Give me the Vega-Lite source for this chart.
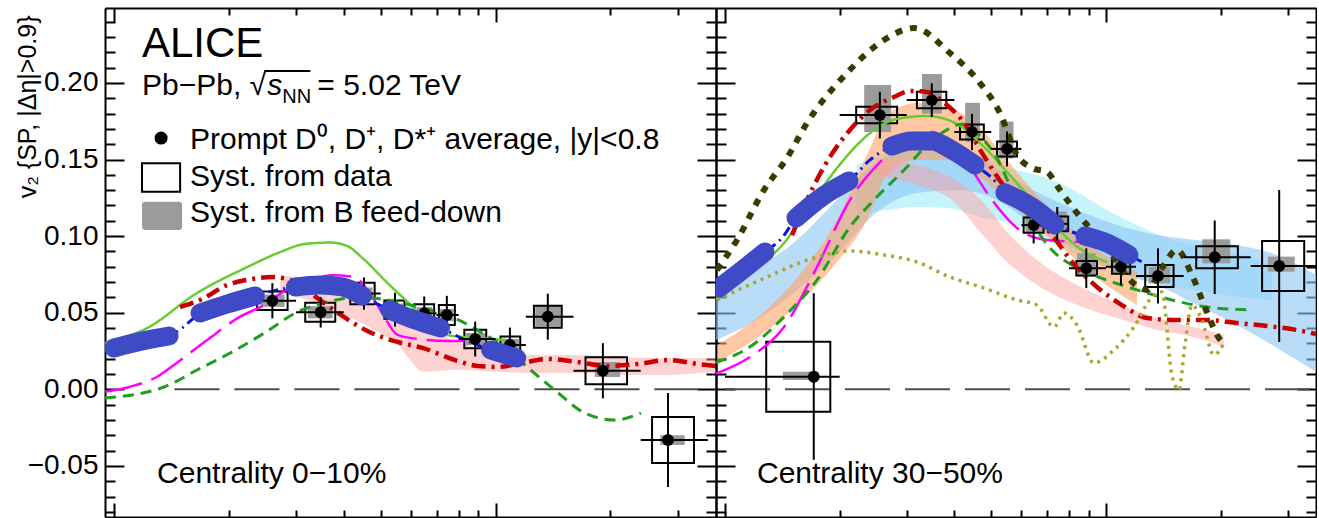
{
  "$schema": "https://vega.github.io/schema/vega-lite/v6.json",
  "background": "white",
  "padding": {"left": 15, "top": 7, "right": 0, "bottom": 0},
  "autosize": {"type": "pad"},
  "spacing": 0,
  "bounds": "flush",
  "config": {
    "view": {"stroke": null},
    "font": "Liberation Sans"
  },
  "datasets": {
    "curves": [
      {"panel": "L", "model": "M1", "pt": 0.9471, "v2": 0.0300}, {"panel": "L", "model": "M1", "pt": 1.2209, "v2": 0.0400}, {"panel": "L", "model": "M1", "pt": 1.6513, "v2": 0.0629}, {"panel": "L", "model": "M1", "pt": 2.2344, "v2": 0.0798}, {"panel": "L", "model": "M1", "pt": 2.7279, "v2": 0.0896}, {"panel": "L", "model": "M1", "pt": 3.1528, "v2": 0.0948}, {"panel": "L", "model": "M1", "pt": 3.6887, "v2": 0.0958}, {"panel": "L", "model": "M1", "pt": 4.0881, "v2": 0.0935}, {"panel": "L", "model": "M1", "pt": 4.4770, "v2": 0.0857}, {"panel": "L", "model": "M1", "pt": 5.2069, "v2": 0.0694}, {"panel": "L", "model": "M1", "pt": 5.8751, "v2": 0.0570}, {"panel": "L", "model": "M1", "pt": 6.6293, "v2": 0.0439}, {"panel": "L", "model": "M1", "pt": 7.4815, "v2": 0.0354}, {"panel": "L", "model": "M1", "pt": 8.9693, "v2": 0.0335}, {"panel": "L", "model": "M1", "pt": 10.753, "v2": 0.0322},
      {"panel": "L", "model": "M2", "pt": 0.9471, "v2": -0.0016}, {"panel": "L", "model": "M2", "pt": 1.1015, "v2": 0.0017}, {"panel": "L", "model": "M2", "pt": 1.2967, "v2": 0.0082}, {"panel": "L", "model": "M2", "pt": 1.4369, "v2": 0.0159}, {"panel": "L", "model": "M2", "pt": 1.7541, "v2": 0.0322}, {"panel": "L", "model": "M2", "pt": 2.1417, "v2": 0.0474}, {"panel": "L", "model": "M2", "pt": 2.4756, "v2": 0.0550}, {"panel": "L", "model": "M2", "pt": 2.8458, "v2": 0.0654}, {"panel": "L", "model": "M2", "pt": 3.2105, "v2": 0.0706}, {"panel": "L", "model": "M2", "pt": 3.7336, "v2": 0.0745}, {"panel": "L", "model": "M2", "pt": 4.2648, "v2": 0.0733}, {"panel": "L", "model": "M2", "pt": 4.6142, "v2": 0.0648}, {"panel": "L", "model": "M2", "pt": 4.9912, "v2": 0.0518}, {"panel": "L", "model": "M2", "pt": 5.5316, "v2": 0.0355}, {"panel": "L", "model": "M2", "pt": 6.2403, "v2": 0.0329}, {"panel": "L", "model": "M2", "pt": 7.4815, "v2": 0.0315}, {"panel": "L", "model": "M2", "pt": 8.4433, "v2": 0.0315},
      {"panel": "L", "model": "M3", "pt": 0.9471, "v2": -0.0057}, {"panel": "L", "model": "M3", "pt": 1.3527, "v2": 0.0015}, {"panel": "L", "model": "M3", "pt": 1.6513, "v2": 0.0126}, {"panel": "L", "model": "M3", "pt": 2.0158, "v2": 0.0237}, {"panel": "L", "model": "M3", "pt": 2.4756, "v2": 0.0367}, {"panel": "L", "model": "M3", "pt": 3.0237, "v2": 0.0505}, {"panel": "L", "model": "M3", "pt": 3.6230, "v2": 0.0570}, {"panel": "L", "model": "M3", "pt": 4.3425, "v2": 0.0602}, {"panel": "L", "model": "M3", "pt": 5.2069, "v2": 0.0583}, {"panel": "L", "model": "M3", "pt": 5.9823, "v2": 0.0550}, {"panel": "L", "model": "M3", "pt": 6.7506, "v2": 0.0518}, {"panel": "L", "model": "M3", "pt": 7.8050, "v2": 0.0465}, {"panel": "L", "model": "M3", "pt": 9.1332, "v2": 0.0374}, {"panel": "L", "model": "M3", "pt": 10.559, "v2": 0.0276}, {"panel": "L", "model": "M3", "pt": 12.356, "v2": 0.0126}, {"panel": "L", "model": "M3", "pt": 14.284, "v2": -0.0005}, {"panel": "L", "model": "M3", "pt": 17.125, "v2": -0.0155}, {"panel": "L", "model": "M3", "pt": 20.527, "v2": -0.0201}, {"panel": "L", "model": "M3", "pt": 24.025, "v2": -0.0155},
      {"panel": "L", "model": "M4", "pt": 1.4899, "v2": 0.0537}, {"panel": "L", "model": "M4", "pt": 1.7019, "v2": 0.0589}, {"panel": "L", "model": "M4", "pt": 1.9796, "v2": 0.0681}, {"panel": "L", "model": "M4", "pt": 2.3030, "v2": 0.0720}, {"panel": "L", "model": "M4", "pt": 2.5982, "v2": 0.0733}, {"panel": "L", "model": "M4", "pt": 3.0237, "v2": 0.0694}, {"panel": "L", "model": "M4", "pt": 3.4104, "v2": 0.0596}, {"panel": "L", "model": "M4", "pt": 3.9664, "v2": 0.0479}, {"panel": "L", "model": "M4", "pt": 4.6142, "v2": 0.0381}, {"panel": "L", "model": "M4", "pt": 5.5316, "v2": 0.0309}, {"panel": "L", "model": "M4", "pt": 6.4320, "v2": 0.0270}, {"panel": "L", "model": "M4", "pt": 7.9478, "v2": 0.0185}, {"panel": "L", "model": "M4", "pt": 8.9693, "v2": 0.0152}, {"panel": "L", "model": "M4", "pt": 10.122, "v2": 0.0146}, {"panel": "L", "model": "M4", "pt": 11.422, "v2": 0.0165}, {"panel": "L", "model": "M4", "pt": 13.692, "v2": 0.0198}, {"panel": "L", "model": "M4", "pt": 16.413, "v2": 0.0178}, {"panel": "L", "model": "M4", "pt": 19.677, "v2": 0.0152}, {"panel": "L", "model": "M4", "pt": 23.594, "v2": 0.0165}, {"panel": "L", "model": "M4", "pt": 28.279, "v2": 0.0191}, {"panel": "L", "model": "M4", "pt": 33.901, "v2": 0.0165}, {"panel": "L", "model": "M4", "pt": 37.80, "v2": 0.0152},
      {"panel": "L", "model": "M5", "pt": 0.9471, "v2": 0.0257}, {"panel": "L", "model": "M5", "pt": 1.0, "v2": 0.0270}, {"panel": "L", "model": "M5", "pt": 1.1844, "v2": 0.0315}, {"panel": "L", "model": "M5", "pt": 1.3941, "v2": 0.0348}, {"panel": "L", "model": "M5", "pt": 1.508, "v2": 0.0400}, {"panel": "L", "model": "M5", "pt": 1.6814, "v2": 0.0498}, {"panel": "L", "model": "M5", "pt": 1.9796, "v2": 0.0557}, {"panel": "L", "model": "M5", "pt": 2.3451, "v2": 0.0609}, {"panel": "L", "model": "M5", "pt": 2.6779, "v2": 0.0649}, {"panel": "L", "model": "M5", "pt": 2.9868, "v2": 0.0668}, {"panel": "L", "model": "M5", "pt": 3.4519, "v2": 0.0681}, {"panel": "L", "model": "M5", "pt": 3.9664, "v2": 0.0668}, {"panel": "L", "model": "M5", "pt": 4.4770, "v2": 0.0609}, {"panel": "L", "model": "M5", "pt": 4.9017, "v2": 0.0557}, {"panel": "L", "model": "M5", "pt": 5.2706, "v2": 0.0518}, {"panel": "L", "model": "M5", "pt": 6.0555, "v2": 0.0459}, {"panel": "L", "model": "M5", "pt": 7.1716, "v2": 0.0400}, {"panel": "L", "model": "M5", "pt": 8.4433, "v2": 0.0315}, {"panel": "L", "model": "M5", "pt": 9.7023, "v2": 0.0257}, {"panel": "L", "model": "M5", "pt": 11.354, "v2": 0.0204},
      {"panel": "R", "model": "M1", "pt": 0.9471, "v2": 0.0590}, {"panel": "R", "model": "M1", "pt": 1.1421, "v2": 0.0746}, {"panel": "R", "model": "M1", "pt": 1.4286, "v2": 0.0955}, {"panel": "R", "model": "M1", "pt": 1.7436, "v2": 0.1268}, {"panel": "R", "model": "M1", "pt": 1.9678, "v2": 0.1444}, {"panel": "R", "model": "M1", "pt": 2.2211, "v2": 0.1595}, {"panel": "R", "model": "M1", "pt": 2.5061, "v2": 0.1706}, {"panel": "R", "model": "M1", "pt": 2.8277, "v2": 0.1765}, {"panel": "R", "model": "M1", "pt": 3.3900, "v2": 0.1784}, {"panel": "R", "model": "M1", "pt": 4.0626, "v2": 0.1732}, {"panel": "R", "model": "M1", "pt": 4.7276, "v2": 0.1595}, {"panel": "R", "model": "M1", "pt": 5.4982, "v2": 0.1419}, {"panel": "R", "model": "M1", "pt": 6.3930, "v2": 0.1236}, {"panel": "R", "model": "M1", "pt": 7.4352, "v2": 0.1053}, {"panel": "R", "model": "M1", "pt": 8.6514, "v2": 0.0909}, {"panel": "R", "model": "M1", "pt": 10.061, "v2": 0.0831},
      {"panel": "R", "model": "M2", "pt": 0.9471, "v2": 0.0103}, {"panel": "R", "model": "M2", "pt": 1.1631, "v2": 0.0211}, {"panel": "R", "model": "M2", "pt": 1.4286, "v2": 0.0407}, {"panel": "R", "model": "M2", "pt": 1.7436, "v2": 0.0798}, {"panel": "R", "model": "M2", "pt": 2.1288, "v2": 0.1236}, {"panel": "R", "model": "M2", "pt": 2.6141, "v2": 0.1510}, {"panel": "R", "model": "M2", "pt": 3.0962, "v2": 0.1660}, {"panel": "R", "model": "M2", "pt": 3.4940, "v2": 0.1679}, {"panel": "R", "model": "M2", "pt": 3.9417, "v2": 0.1595}, {"panel": "R", "model": "M2", "pt": 4.4497, "v2": 0.1432}, {"panel": "R", "model": "M2", "pt": 5.0225, "v2": 0.1236}, {"panel": "R", "model": "M2", "pt": 5.8411, "v2": 0.1053}, {"panel": "R", "model": "M2", "pt": 6.9980, "v2": 0.0975}, {"panel": "R", "model": "M2", "pt": 8.6514, "v2": 0.0962},
      {"panel": "R", "model": "M3", "pt": 0.9471, "v2": 0.0175}, {"panel": "R", "model": "M3", "pt": 1.1631, "v2": 0.0277}, {"panel": "R", "model": "M3", "pt": 1.4286, "v2": 0.0473}, {"panel": "R", "model": "M3", "pt": 1.7436, "v2": 0.0713}, {"panel": "R", "model": "M3", "pt": 2.1288, "v2": 0.1060}, {"panel": "R", "model": "M3", "pt": 2.5061, "v2": 0.1256}, {"panel": "R", "model": "M3", "pt": 3.0040, "v2": 0.1451}, {"panel": "R", "model": "M3", "pt": 3.3900, "v2": 0.1595}, {"panel": "R", "model": "M3", "pt": 3.8242, "v2": 0.1693}, {"panel": "R", "model": "M3", "pt": 4.1883, "v2": 0.1732}, {"panel": "R", "model": "M3", "pt": 4.7276, "v2": 0.1641}, {"panel": "R", "model": "M3", "pt": 5.1767, "v2": 0.1510}, {"panel": "R", "model": "M3", "pt": 5.6671, "v2": 0.1301}, {"panel": "R", "model": "M3", "pt": 6.2027, "v2": 0.1138}, {"panel": "R", "model": "M3", "pt": 7.2147, "v2": 0.0909}, {"panel": "R", "model": "M3", "pt": 8.3938, "v2": 0.0792}, {"panel": "R", "model": "M3", "pt": 10.061, "v2": 0.0713}, {"panel": "R", "model": "M3", "pt": 12.060, "v2": 0.0649}, {"panel": "R", "model": "M3", "pt": 14.902, "v2": 0.0583}, {"panel": "R", "model": "M3", "pt": 18.410, "v2": 0.0537}, {"panel": "R", "model": "M3", "pt": 24.166, "v2": 0.0518},
      {"panel": "R", "model": "M4", "pt": 1.4993, "v2": 0.1007}, {"panel": "R", "model": "M4", "pt": 1.6414, "v2": 0.1236}, {"panel": "R", "model": "M4", "pt": 1.8864, "v2": 0.1517}, {"panel": "R", "model": "M4", "pt": 2.1288, "v2": 0.1693}, {"panel": "R", "model": "M4", "pt": 2.4023, "v2": 0.1823}, {"panel": "R", "model": "M4", "pt": 2.7769, "v2": 0.1908}, {"panel": "R", "model": "M4", "pt": 3.0590, "v2": 0.1947}, {"panel": "R", "model": "M4", "pt": 3.3900, "v2": 0.1941}, {"panel": "R", "model": "M4", "pt": 3.8242, "v2": 0.1856}, {"panel": "R", "model": "M4", "pt": 4.1883, "v2": 0.1758}, {"panel": "R", "model": "M4", "pt": 4.7276, "v2": 0.1543}, {"panel": "R", "model": "M4", "pt": 5.4982, "v2": 0.1301}, {"panel": "R", "model": "M4", "pt": 6.3930, "v2": 0.1138}, {"panel": "R", "model": "M4", "pt": 7.2147, "v2": 0.1007}, {"panel": "R", "model": "M4", "pt": 8.1437, "v2": 0.0831}, {"panel": "R", "model": "M4", "pt": 9.4699, "v2": 0.0668}, {"panel": "R", "model": "M4", "pt": 11.015, "v2": 0.0550}, {"panel": "R", "model": "M4", "pt": 12.811, "v2": 0.0465}, {"panel": "R", "model": "M4", "pt": 15.360, "v2": 0.0452}, {"panel": "R", "model": "M4", "pt": 18.410, "v2": 0.0452}, {"panel": "R", "model": "M4", "pt": 22.072, "v2": 0.0433}, {"panel": "R", "model": "M4", "pt": 26.465, "v2": 0.0413}, {"panel": "R", "model": "M4", "pt": 31.717, "v2": 0.0387}, {"panel": "R", "model": "M4", "pt": 35.59, "v2": 0.0361},
      {"panel": "R", "model": "M5", "pt": 0.9471, "v2": 0.0640}, {"panel": "R", "model": "M5", "pt": 0.9644, "v2": 0.0661}, {"panel": "R", "model": "M5", "pt": 1.1285, "v2": 0.0792}, {"panel": "R", "model": "M5", "pt": 1.2735, "v2": 0.0896}, {"panel": "R", "model": "M5", "pt": 1.4113, "v2": 0.0988}, {"panel": "R", "model": "M5", "pt": 1.5359, "v2": 0.1118}, {"panel": "R", "model": "M5", "pt": 1.7970, "v2": 0.1256}, {"panel": "R", "model": "M5", "pt": 2.1160, "v2": 0.1360}, {"panel": "R", "model": "M5", "pt": 2.4023, "v2": 0.1497}, {"panel": "R", "model": "M5", "pt": 2.7435, "v2": 0.1588}, {"panel": "R", "model": "M5", "pt": 3.0962, "v2": 0.1621}, {"panel": "R", "model": "M5", "pt": 3.4940, "v2": 0.1621}, {"panel": "R", "model": "M5", "pt": 3.9417, "v2": 0.1562}, {"panel": "R", "model": "M5", "pt": 4.5316, "v2": 0.1464}, {"panel": "R", "model": "M5", "pt": 5.0225, "v2": 0.1379}, {"panel": "R", "model": "M5", "pt": 5.4325, "v2": 0.1282}, {"panel": "R", "model": "M5", "pt": 6.3930, "v2": 0.1190}, {"panel": "R", "model": "M5", "pt": 7.3460, "v2": 0.1073}, {"panel": "R", "model": "M5", "pt": 8.1437, "v2": 0.1027}, {"panel": "R", "model": "M5", "pt": 8.8104, "v2": 0.1001}, {"panel": "R", "model": "M5", "pt": 10.061, "v2": 0.0955}, {"panel": "R", "model": "M5", "pt": 11.492, "v2": 0.0877}, {"panel": "R", "model": "M5", "pt": 12.430, "v2": 0.0831},
      {"panel": "R", "model": "M6", "pt": 0.9528, "v2": 0.0779}, {"panel": "R", "model": "M6", "pt": 1.0752, "v2": 0.0975}, {"panel": "R", "model": "M6", "pt": 1.2659, "v2": 0.1301}, {"panel": "R", "model": "M6", "pt": 1.4545, "v2": 0.1510}, {"panel": "R", "model": "M6", "pt": 1.6414, "v2": 0.1738}, {"panel": "R", "model": "M6", "pt": 2.0906, "v2": 0.2065}, {"panel": "R", "model": "M6", "pt": 2.6141, "v2": 0.2280}, {"panel": "R", "model": "M6", "pt": 3.1339, "v2": 0.2358}, {"panel": "R", "model": "M6", "pt": 3.8943, "v2": 0.2195}, {"panel": "R", "model": "M6", "pt": 4.6707, "v2": 0.1999}, {"panel": "R", "model": "M6", "pt": 5.2706, "v2": 0.1803}, {"panel": "R", "model": "M6", "pt": 5.8411, "v2": 0.1530}, {"panel": "R", "model": "M6", "pt": 6.3930, "v2": 0.1445}, {"panel": "R", "model": "M6", "pt": 6.9980, "v2": 0.1419}, {"panel": "R", "model": "M6", "pt": 7.5723, "v2": 0.1301}, {"panel": "R", "model": "M6", "pt": 8.3938, "v2": 0.1151}, {"panel": "R", "model": "M6", "pt": 9.2998, "v2": 0.1020}, {"panel": "R", "model": "M6", "pt": 10.368, "v2": 0.0877}, {"panel": "R", "model": "M6", "pt": 11.561, "v2": 0.0714}, {"panel": "R", "model": "M6", "pt": 12.811, "v2": 0.0649}, {"panel": "R", "model": "M6", "pt": 14.028, "v2": 0.0792}, {"panel": "R", "model": "M6", "pt": 15.360, "v2": 0.0910}, {"panel": "R", "model": "M6", "pt": 16.814, "v2": 0.0746}, {"panel": "R", "model": "M6", "pt": 18.410, "v2": 0.0505}, {"panel": "R", "model": "M6", "pt": 19.793, "v2": 0.0335}, {"panel": "R", "model": "M6", "pt": 20.774, "v2": 0.0289},
      {"panel": "R", "model": "M7", "pt": 0.9528, "v2": 0.0583}, {"panel": "R", "model": "M7", "pt": 1.2890, "v2": 0.0733}, {"panel": "R", "model": "M7", "pt": 1.7436, "v2": 0.0864}, {"panel": "R", "model": "M7", "pt": 2.1288, "v2": 0.0903}, {"panel": "R", "model": "M7", "pt": 2.6141, "v2": 0.0877}, {"panel": "R", "model": "M7", "pt": 3.1914, "v2": 0.0831}, {"panel": "R", "model": "M7", "pt": 3.8943, "v2": 0.0733}, {"panel": "R", "model": "M7", "pt": 4.7837, "v2": 0.0661}, {"panel": "R", "model": "M7", "pt": 5.8411, "v2": 0.0583}, {"panel": "R", "model": "M7", "pt": 6.5892, "v2": 0.0550}, {"panel": "R", "model": "M7", "pt": 7.3023, "v2": 0.0407}, {"panel": "R", "model": "M7", "pt": 7.7572, "v2": 0.0498}, {"panel": "R", "model": "M7", "pt": 8.3938, "v2": 0.0420}, {"panel": "R", "model": "M7", "pt": 9.2998, "v2": 0.0172}, {"panel": "R", "model": "M7", "pt": 10.496, "v2": 0.0257}, {"panel": "R", "model": "M7", "pt": 11.846, "v2": 0.0407}, {"panel": "R", "model": "M7", "pt": 13.205, "v2": 0.0602}, {"panel": "R", "model": "M7", "pt": 14.028, "v2": 0.0635}, {"panel": "R", "model": "M7", "pt": 14.902, "v2": 0.0093}, {"panel": "R", "model": "M7", "pt": 15.546, "v2": -0.0005}, {"panel": "R", "model": "M7", "pt": 16.118, "v2": 0.0289}, {"panel": "R", "model": "M7", "pt": 16.814, "v2": 0.0550}, {"panel": "R", "model": "M7", "pt": 17.862, "v2": 0.0452}, {"panel": "R", "model": "M7", "pt": 19.205, "v2": 0.0224}, {"panel": "R", "model": "M7", "pt": 20.401, "v2": 0.0302}
    ],
    "bands": [
      {"panel": "L", "model": "B4", "pt": 2.7279, "lo": 0.0635, "hi": 0.0740}, {"panel": "L", "model": "B4", "pt": 3.2105, "lo": 0.0583, "hi": 0.0727}, {"panel": "L", "model": "B4", "pt": 3.8484, "lo": 0.0505, "hi": 0.0629}, {"panel": "L", "model": "B4", "pt": 4.6142, "lo": 0.0413, "hi": 0.0563}, {"panel": "L", "model": "B4", "pt": 5.5316, "lo": 0.0289, "hi": 0.0485}, {"panel": "L", "model": "B4", "pt": 6.5102, "lo": 0.0114, "hi": 0.0413}, {"panel": "L", "model": "B4", "pt": 7.9478, "lo": 0.0127, "hi": 0.0309}, {"panel": "L", "model": "B4", "pt": 10.122, "lo": 0.0114, "hi": 0.0244}, {"panel": "L", "model": "B4", "pt": 12.891, "lo": 0.0107, "hi": 0.0224}, {"panel": "L", "model": "B4", "pt": 16.413, "lo": 0.0107, "hi": 0.0224}, {"panel": "L", "model": "B4", "pt": 20.902, "lo": 0.0093, "hi": 0.0211}, {"panel": "L", "model": "B4", "pt": 26.619, "lo": 0.0093, "hi": 0.0204}, {"panel": "L", "model": "B4", "pt": 37.80, "lo": 0.0114, "hi": 0.0204},
      {"panel": "R", "model": "B1", "pt": 2.2211, "lo": 0.1138, "hi": 0.1464}, {"panel": "R", "model": "B1", "pt": 2.6618, "lo": 0.1170, "hi": 0.1549}, {"panel": "R", "model": "B1", "pt": 3.1914, "lo": 0.1190, "hi": 0.1595}, {"panel": "R", "model": "B1", "pt": 3.8242, "lo": 0.1183, "hi": 0.1595}, {"panel": "R", "model": "B1", "pt": 4.7837, "lo": 0.1118, "hi": 0.1510}, {"panel": "R", "model": "B1", "pt": 5.8411, "lo": 0.1072, "hi": 0.1432}, {"panel": "R", "model": "B1", "pt": 6.9980, "lo": 0.0975, "hi": 0.1379}, {"panel": "R", "model": "B1", "pt": 8.3938, "lo": 0.0877, "hi": 0.1288}, {"panel": "R", "model": "B1", "pt": 10.061, "lo": 0.0792, "hi": 0.1170}, {"panel": "R", "model": "B1", "pt": 12.060, "lo": 0.0727, "hi": 0.1073}, {"panel": "R", "model": "B1", "pt": 14.458, "lo": 0.0681, "hi": 0.0988}, {"panel": "R", "model": "B1", "pt": 18.410, "lo": 0.0635, "hi": 0.0922}, {"panel": "R", "model": "B1", "pt": 23.45, "lo": 0.0596, "hi": 0.0870}, {"panel": "R", "model": "B1", "pt": 27.28, "lo": 0.0583, "hi": 0.0811},
      {"panel": "R", "model": "B2", "pt": 0.9471, "lo": 0.0322, "hi": 0.0648}, {"panel": "R", "model": "B2", "pt": 1.2134, "lo": 0.0452, "hi": 0.0792}, {"panel": "R", "model": "B2", "pt": 1.5453, "lo": 0.0648, "hi": 0.0975}, {"panel": "R", "model": "B2", "pt": 1.9678, "lo": 0.0877, "hi": 0.1236}, {"panel": "R", "model": "B2", "pt": 2.5061, "lo": 0.1157, "hi": 0.1484}, {"panel": "R", "model": "B2", "pt": 3.1914, "lo": 0.1282, "hi": 0.1575}, {"panel": "R", "model": "B2", "pt": 4.0626, "lo": 0.1301, "hi": 0.1562}, {"panel": "R", "model": "B2", "pt": 5.1767, "lo": 0.1236, "hi": 0.1445}, {"panel": "R", "model": "B2", "pt": 6.5892, "lo": 0.1053, "hi": 0.1288}, {"panel": "R", "model": "B2", "pt": 8.3938, "lo": 0.0909, "hi": 0.1170}, {"panel": "R", "model": "B2", "pt": 10.687, "lo": 0.0766, "hi": 0.1073}, {"panel": "R", "model": "B2", "pt": 13.610, "lo": 0.0681, "hi": 0.1008}, {"panel": "R", "model": "B2", "pt": 17.330, "lo": 0.0550, "hi": 0.0975}, {"panel": "R", "model": "B2", "pt": 22.072, "lo": 0.0420, "hi": 0.0942}, {"panel": "R", "model": "B2", "pt": 28.110, "lo": 0.0270, "hi": 0.0877}, {"panel": "R", "model": "B2", "pt": 35.59, "lo": 0.0114, "hi": 0.0746},
      {"panel": "R", "model": "B3", "pt": 0.9528, "lo": 0.0179, "hi": 0.0290}, {"panel": "R", "model": "B3", "pt": 1.2134, "lo": 0.0335, "hi": 0.0465}, {"panel": "R", "model": "B3", "pt": 1.5453, "lo": 0.0551, "hi": 0.0727}, {"panel": "R", "model": "B3", "pt": 1.9678, "lo": 0.0831, "hi": 0.1105}, {"panel": "R", "model": "B3", "pt": 2.3590, "lo": 0.1105, "hi": 0.1529}, {"panel": "R", "model": "B3", "pt": 2.6618, "lo": 0.1399, "hi": 0.1790}, {"panel": "R", "model": "B3", "pt": 3.1914, "lo": 0.1497, "hi": 0.1869}, {"panel": "R", "model": "B3", "pt": 3.8242, "lo": 0.1497, "hi": 0.1843}, {"panel": "R", "model": "B3", "pt": 4.5869, "lo": 0.1399, "hi": 0.1725}, {"panel": "R", "model": "B3", "pt": 5.4982, "lo": 0.1236, "hi": 0.1497}, {"panel": "R", "model": "B3", "pt": 6.5892, "lo": 0.1053, "hi": 0.1268}, {"panel": "R", "model": "B3", "pt": 7.9000, "lo": 0.0896, "hi": 0.1073}, {"panel": "R", "model": "B3", "pt": 9.4699, "lo": 0.0727, "hi": 0.0909}, {"panel": "R", "model": "B3", "pt": 12.060, "lo": 0.0551, "hi": 0.0766},
      {"panel": "R", "model": "B4", "pt": 2.5061, "lo": 0.1398, "hi": 0.1496}, {"panel": "R", "model": "B4", "pt": 3.1914, "lo": 0.1334, "hi": 0.1464}, {"panel": "R", "model": "B4", "pt": 3.9417, "lo": 0.1236, "hi": 0.1379}, {"panel": "R", "model": "B4", "pt": 4.7276, "lo": 0.1012, "hi": 0.1230}, {"panel": "R", "model": "B4", "pt": 5.4982, "lo": 0.0831, "hi": 0.1027}, {"panel": "R", "model": "B4", "pt": 6.5892, "lo": 0.0681, "hi": 0.0844}, {"panel": "R", "model": "B4", "pt": 8.3938, "lo": 0.0551, "hi": 0.0681}, {"panel": "R", "model": "B4", "pt": 10.687, "lo": 0.0465, "hi": 0.0564}, {"panel": "R", "model": "B4", "pt": 13.610, "lo": 0.0387, "hi": 0.0465}, {"panel": "R", "model": "B4", "pt": 17.330, "lo": 0.0335, "hi": 0.0401}, {"panel": "R", "model": "B4", "pt": 20.401, "lo": 0.0276, "hi": 0.0354}
    ],
    "blobs": [
      {"panel": "L", "seg": 1, "pt": 1.0, "v2": 0.0270}, {"panel": "L", "seg": 1, "pt": 1.1844, "v2": 0.0315}, {"panel": "L", "seg": 1, "pt": 1.3941, "v2": 0.0348},
      {"panel": "L", "seg": 2, "pt": 1.6814, "v2": 0.0498}, {"panel": "L", "seg": 2, "pt": 1.9796, "v2": 0.0557}, {"panel": "L", "seg": 2, "pt": 2.3451, "v2": 0.0609},
      {"panel": "L", "seg": 3, "pt": 2.9868, "v2": 0.0668}, {"panel": "L", "seg": 3, "pt": 3.4519, "v2": 0.0681}, {"panel": "L", "seg": 3, "pt": 3.9664, "v2": 0.0668}, {"panel": "L", "seg": 3, "pt": 4.4770, "v2": 0.0609},
      {"panel": "L", "seg": 4, "pt": 5.2706, "v2": 0.0518}, {"panel": "L", "seg": 4, "pt": 6.0555, "v2": 0.0459}, {"panel": "L", "seg": 4, "pt": 7.1716, "v2": 0.0400},
      {"panel": "L", "seg": 5, "pt": 9.7023, "v2": 0.0257}, {"panel": "L", "seg": 5, "pt": 11.354, "v2": 0.0204},
      {"panel": "R", "seg": 1, "pt": 0.9644, "v2": 0.0661}, {"panel": "R", "seg": 1, "pt": 1.1285, "v2": 0.0792}, {"panel": "R", "seg": 1, "pt": 1.2735, "v2": 0.0896},
      {"panel": "R", "seg": 2, "pt": 1.5359, "v2": 0.1118}, {"panel": "R", "seg": 2, "pt": 1.7970, "v2": 0.1256}, {"panel": "R", "seg": 2, "pt": 2.1160, "v2": 0.1360},
      {"panel": "R", "seg": 3, "pt": 2.7435, "v2": 0.1588}, {"panel": "R", "seg": 3, "pt": 3.0962, "v2": 0.1621}, {"panel": "R", "seg": 3, "pt": 3.4940, "v2": 0.1621}, {"panel": "R", "seg": 3, "pt": 3.9417, "v2": 0.1562}, {"panel": "R", "seg": 3, "pt": 4.5316, "v2": 0.1464},
      {"panel": "R", "seg": 4, "pt": 5.4325, "v2": 0.1282}, {"panel": "R", "seg": 4, "pt": 6.3930, "v2": 0.1190}, {"panel": "R", "seg": 4, "pt": 7.3460, "v2": 0.1073},
      {"panel": "R", "seg": 5, "pt": 8.8104, "v2": 0.1001}, {"panel": "R", "seg": 5, "pt": 10.061, "v2": 0.0955}, {"panel": "R", "seg": 5, "pt": 11.492, "v2": 0.0877}
    ],
    "pts": [
      {"panel": "L", "pt": 2.60, "v2": 0.0578, "lo": 0.0463, "hi": 0.0693, "xl": 2, "xh": 3, "bxl": 2.37, "bxh": 2.85, "sl": 0.0518, "sh": 0.0638, "gxl": 2.42, "gxh": 2.80, "gl": 0.0538, "gh": 0.0618},
      {"panel": "L", "pt": 3.48, "v2": 0.0503, "lo": 0.0403, "hi": 0.0603, "xl": 3, "xh": 4, "bxl": 3.17, "bxh": 3.80, "sl": 0.0441, "sh": 0.0565, "gxl": 3.22, "gxh": 3.74, "gl": 0.0463, "gh": 0.0543},
      {"panel": "L", "pt": 4.52, "v2": 0.0625, "lo": 0.0520, "hi": 0.0730, "xl": 4, "xh": 5, "bxl": 4.16, "bxh": 4.82, "sl": 0.0555, "sh": 0.0695, "gxl": 4.22, "gxh": 4.76, "gl": 0.0585, "gh": 0.0665},
      {"panel": "L", "pt": 5.45, "v2": 0.0520, "lo": 0.0410, "hi": 0.0630, "xl": 5, "xh": 6, "bxl": 5.11, "bxh": 5.77, "sl": 0.0460, "sh": 0.0580, "gxl": 5.16, "gxh": 5.72, "gl": 0.0480, "gh": 0.0560},
      {"panel": "L", "pt": 6.50, "v2": 0.0496, "lo": 0.0386, "hi": 0.0606, "xl": 6, "xh": 7, "bxl": 6.12, "bxh": 6.90, "sl": 0.0436, "sh": 0.0556, "gxl": 6.20, "gxh": 6.82, "gl": 0.0456, "gh": 0.0536},
      {"panel": "L", "pt": 7.45, "v2": 0.0485, "lo": 0.0360, "hi": 0.0610, "xl": 7, "xh": 8, "bxl": 7.10, "bxh": 7.82, "sl": 0.0420, "sh": 0.0550, "gxl": 7.15, "gxh": 7.76, "gl": 0.0445, "gh": 0.0525},
      {"panel": "L", "pt": 8.84, "v2": 0.0328, "lo": 0.0214, "hi": 0.0442, "xl": 8, "xh": 10, "bxl": 8.28, "bxh": 9.45, "sl": 0.0268, "sh": 0.0388, "gxl": 8.35, "gxh": 9.38, "gl": 0.0288, "gh": 0.0368},
      {"panel": "L", "pt": 10.9, "v2": 0.0289, "lo": 0.0175, "hi": 0.0403, "xl": 10, "xh": 12, "bxl": 10.3, "bxh": 11.6, "sl": 0.0234, "sh": 0.0344, "gxl": 10.4, "gxh": 11.5, "gl": 0.0249, "gh": 0.0329},
      {"panel": "L", "pt": 13.7, "v2": 0.0474, "lo": 0.0324, "hi": 0.0624, "xl": 12, "xh": 16, "bxl": 12.6, "bxh": 14.9, "sl": 0.0402, "sh": 0.0546, "gxl": 12.7, "gxh": 14.8, "gl": 0.0410, "gh": 0.0545},
      {"panel": "L", "pt": 19.1, "v2": 0.0121, "lo": -0.0059, "hi": 0.0301, "xl": 16, "xh": 24, "bxl": 17.2, "bxh": 22.1, "sl": 0.0033, "sh": 0.0209, "gxl": 18.2, "gxh": 21.2, "gl": 0.0080, "gh": 0.0178},
      {"panel": "L", "pt": 28.3, "v2": -0.0331, "lo": -0.0638, "hi": -0.0024, "xl": 24, "xh": 36, "bxl": 25.7, "bxh": 33.1, "sl": -0.0481, "sh": -0.0181, "gxl": 27.0, "gxh": 31.3, "gl": -0.0363, "gh": -0.0300},
      {"panel": "R", "pt": 1.71, "v2": 0.0082, "lo": -0.0460, "hi": 0.0627, "xl": 1, "xh": 2, "bxl": 1.283, "bxh": 1.89, "sl": -0.0146, "sh": 0.0311, "gxl": 1.42, "gxh": 1.76, "gl": 0.0061, "gh": 0.0115},
      {"panel": "R", "pt": 2.55, "v2": 0.1790, "lo": 0.1638, "hi": 0.1942, "xl": 2, "xh": 3, "bxl": 2.21, "bxh": 2.83, "sl": 0.1736, "sh": 0.1844, "gxl": 2.32, "gxh": 2.73, "gl": 0.1680, "gh": 0.1986},
      {"panel": "R", "pt": 3.49, "v2": 0.1888, "lo": 0.1778, "hi": 0.1998, "xl": 3, "xh": 4, "bxl": 3.19, "bxh": 3.81, "sl": 0.1834, "sh": 0.1942, "gxl": 3.29, "gxh": 3.71, "gl": 0.1800, "gh": 0.2058},
      {"panel": "R", "pt": 4.45, "v2": 0.1680, "lo": 0.1562, "hi": 0.1798, "xl": 4, "xh": 5, "bxl": 4.14, "bxh": 4.78, "sl": 0.1631, "sh": 0.1729, "gxl": 4.27, "gxh": 4.67, "gl": 0.1616, "gh": 0.1870},
      {"panel": "R", "pt": 5.50, "v2": 0.1569, "lo": 0.1455, "hi": 0.1683, "xl": 5, "xh": 6, "bxl": 5.18, "bxh": 5.84, "sl": 0.1520, "sh": 0.1618, "gxl": 5.25, "gxh": 5.72, "gl": 0.1507, "gh": 0.1747},
      {"panel": "R", "pt": 6.46, "v2": 0.1072, "lo": 0.0952, "hi": 0.1192, "xl": 6, "xh": 7, "bxl": 6.08, "bxh": 6.86, "sl": 0.1022, "sh": 0.1122, "gxl": 6.15, "gxh": 6.80, "gl": 0.1020, "gh": 0.1180},
      {"panel": "R", "pt": 7.45, "v2": 0.1080, "lo": 0.0970, "hi": 0.1190, "xl": 7, "xh": 8, "bxl": 7.06, "bxh": 7.96, "sl": 0.1032, "sh": 0.1128, "gxl": 7.12, "gxh": 7.90, "gl": 0.1030, "gh": 0.1160},
      {"panel": "R", "pt": 8.88, "v2": 0.0790, "lo": 0.0660, "hi": 0.0920, "xl": 8, "xh": 10, "bxl": 8.36, "bxh": 9.47, "sl": 0.0743, "sh": 0.0837, "gxl": 8.40, "gxh": 9.40, "gl": 0.0735, "gh": 0.0888},
      {"panel": "R", "pt": 10.95, "v2": 0.0800, "lo": 0.0680, "hi": 0.0920, "xl": 10, "xh": 12, "bxl": 10.37, "bxh": 11.58, "sl": 0.0754, "sh": 0.0846, "gxl": 10.4, "gxh": 11.5, "gl": 0.0754, "gh": 0.0910},
      {"panel": "R", "pt": 13.7, "v2": 0.0740, "lo": 0.0560, "hi": 0.0920, "xl": 12, "xh": 16, "bxl": 12.68, "bxh": 15.05, "sl": 0.0668, "sh": 0.0812, "gxl": 12.94, "gxh": 14.75, "gl": 0.0692, "gh": 0.0800},
      {"panel": "R", "pt": 19.3, "v2": 0.0862, "lo": 0.0622, "hi": 0.1102, "xl": 16, "xh": 24, "bxl": 17.26, "bxh": 22.2, "sl": 0.0790, "sh": 0.0934, "gxl": 17.9, "gxh": 21.2, "gl": 0.0822, "gh": 0.0979},
      {"panel": "R", "pt": 28.5, "v2": 0.0805, "lo": 0.0309, "hi": 0.1301, "xl": 24, "xh": 36, "bxl": 25.7, "bxh": 33.15, "sl": 0.0642, "sh": 0.0968, "gxl": 26.6, "gxh": 31.3, "gl": 0.0768, "gh": 0.0866}
    ],
    "zero": [
      {"panel": "L", "a": 1.44, "b": 37.8},
      {"panel": "R", "a": 1.0, "b": 35.6}
    ],
    "notes": [
      {"panel": "L", "kind": "big", "pt": 1.184, "v2": 0.2167, "text": "ALICE"},
      {"panel": "L", "kind": "n", "pt": 1.184, "v2": 0.1921, "text": "Pb−Pb, √"},
      {"panel": "L", "kind": "i", "pt": 2.521, "v2": 0.1921, "text": "s"},
      {"panel": "L", "kind": "sub", "pt": 2.761, "v2": 0.1869, "text": "NN"},
      {"panel": "L", "kind": "n", "pt": 3.4104, "v2": 0.1921, "text": "= 5.02 TeV"},
      {"panel": "L", "kind": "n", "pt": 1.5824, "v2": 0.1568, "text": "Prompt D⁰, D⁺, D*⁺ average, |y|<0.8"},
      {"panel": "L", "kind": "n", "pt": 1.5824, "v2": 0.1327, "text": "Syst. from data"},
      {"panel": "L", "kind": "n", "pt": 1.5824, "v2": 0.1092, "text": "Syst. from B feed-down"},
      {"panel": "L", "kind": "n", "pt": 1.2967, "v2": -0.0612, "text": "Centrality 0−10%"},
      {"panel": "R", "kind": "n", "pt": 1.2134, "v2": -0.0612, "text": "Centrality 30−50%"}
    ],
    "keys": [
      {"kind": "dot", "x1": 1.3284, "y1": 0.1640},
      {"kind": "open", "x1": 1.184, "x2": 1.49, "y1": 0.1290, "y2": 0.1475},
      {"kind": "grey", "x1": 1.184, "x2": 1.508, "y1": 0.1040, "y2": 0.1225},
      {"kind": "bar", "x1": 2.476, "x2": 3.269, "y1": 0.2078}
    ]
  },
  "hconcat": [
    {
      "width": 611,
      "height": 509,
      "resolve": {"axis": {"x": "independent", "y": "independent"}},
      "layer": [
        {
          "data": {"name": "bands"},
          "transform": [{"filter": "datum.panel === 'L'"}],
          "mark": {"type": "area", "interpolate": "monotone", "clip": true},
          "encoding": {
            "x": {"field": "pt", "type": "quantitative", "scale": {"type": "log", "domain": [0.9471, 37.8], "nice": false}, "axis": null},
            "y": {"field": "lo", "type": "quantitative", "stack": null, "scale": {"domain": [-0.08335, 0.24889], "nice": false, "zero": false}, "axis": null},
            "y2": {"field": "hi"},
            "fill": {"field": "model", "type": "nominal", "scale": {"domain": ["B1", "B2", "B3", "B4"], "range": ["#c6f4fb", "#8ec6f5", "#ffa466", "#ff9c9c"]}, "legend": null},
            "fillOpacity": {"field": "model", "type": "nominal", "scale": {"type": "ordinal", "domain": ["B1", "B2", "B3", "B4"], "range": [1, 0.62, 0.6, 0.45]}, "legend": null}
          }
        },
        {
          "data": {"name": "zero"},
          "transform": [{"filter": "datum.panel === 'L'"}],
          "mark": {"type": "rule", "color": "#4d4d4d", "strokeWidth": 2, "strokeDash": [45, 15]},
          "encoding": {
            "x": {"field": "a", "type": "quantitative", "scale": {"type": "log", "domain": [0.9471, 37.8], "nice": false}, "axis": null},
            "x2": {"field": "b"},
            "y": {"datum": 0, "type": "quantitative", "scale": {"domain": [-0.08335, 0.24889], "nice": false, "zero": false}, "axis": null}
          }
        },
        {
          "data": {"name": "pts"},
          "transform": [{"filter": "datum.panel === 'L'"}],
          "mark": {"type": "rect", "color": "#9b9b9b", "clip": true},
          "encoding": {
            "x": {"field": "gxl", "type": "quantitative", "scale": {"type": "log", "domain": [0.9471, 37.8], "nice": false}, "axis": null},
            "x2": {"field": "gxh"},
            "y": {"field": "gl", "type": "quantitative", "scale": {"domain": [-0.08335, 0.24889], "nice": false, "zero": false}, "axis": null},
            "y2": {"field": "gh"}
          }
        },
        {
          "data": {"name": "pts"},
          "transform": [{"filter": "datum.panel === 'L'"}],
          "mark": {"type": "rect", "fillOpacity": 0, "stroke": "black", "strokeWidth": 2, "clip": true},
          "encoding": {
            "x": {"field": "bxl", "type": "quantitative", "scale": {"type": "log", "domain": [0.9471, 37.8], "nice": false}, "axis": null},
            "x2": {"field": "bxh"},
            "y": {"field": "sl", "type": "quantitative", "scale": {"domain": [-0.08335, 0.24889], "nice": false, "zero": false}, "axis": null},
            "y2": {"field": "sh"}
          }
        },
        {
          "data": {"name": "curves"},
          "transform": [{"filter": "datum.panel === 'L'"}],
          "mark": {"type": "line", "interpolate": "monotone", "clip": true, "strokeCap": "butt"},
          "encoding": {
            "x": {"field": "pt", "type": "quantitative", "scale": {"type": "log", "domain": [0.9471, 37.8], "nice": false}, "axis": null},
            "y": {"field": "v2", "type": "quantitative", "scale": {"domain": [-0.08335, 0.24889], "nice": false, "zero": false}, "axis": null},
            "stroke": {"field": "model", "type": "nominal", "scale": {"domain": ["M1", "M2", "M3", "M4", "M5", "M6", "M7"], "range": ["#66cc33", "#ff00ff", "#1f9e1f", "#cc0000", "#1010ee", "#3b3b00", "#a8a830"]}, "legend": null},
            "strokeDash": {"field": "model", "type": "nominal", "scale": {"domain": ["M1", "M2", "M3", "M4", "M5", "M6", "M7"], "range": [[1, 0], [38, 10], [11, 7], [14, 6, 3, 6], [10, 5, 2, 5], [7, 8], [3, 5]]}, "legend": null},
            "strokeWidth": {"field": "model", "type": "nominal", "scale": {"type": "ordinal", "domain": ["M1", "M2", "M3", "M4", "M5", "M6", "M7"], "range": [2.5, 2.5, 3, 4.5, 3, 6, 3.5]}, "legend": null}
          }
        },
        {
          "data": {"name": "pts"},
          "transform": [{"filter": "datum.panel === 'L'"}],
          "mark": {"type": "rule", "color": "black", "strokeWidth": 2, "clip": true},
          "encoding": {
            "x": {"field": "pt", "type": "quantitative", "scale": {"type": "log", "domain": [0.9471, 37.8], "nice": false},
              "axis": {"orient": "top", "values": [1, 2, 3, 4, 5, 6, 7, 8, 9, 10, 20, 30], "labels": false, "title": null, "grid": false, "domainColor": "black", "domainWidth": 2, "tickColor": "black", "tickWidth": 2, "tickSize": {"condition": {"test": "datum.value === 1 || datum.value === 10", "value": -14}, "value": -7}}},
            "y": {"field": "lo", "type": "quantitative", "scale": {"domain": [-0.08335, 0.24889], "nice": false, "zero": false},
              "axis": {"orient": "right", "values": [-0.08, -0.07, -0.06, -0.05, -0.04, -0.03, -0.02, -0.01, 0, 0.01, 0.02, 0.03, 0.04, 0.05, 0.06, 0.07, 0.08, 0.09, 0.1, 0.11, 0.12, 0.13, 0.14, 0.15, 0.16, 0.17, 0.18, 0.19, 0.2, 0.21, 0.22, 0.23, 0.24], "labels": false, "title": null, "grid": false, "domainColor": "black", "domainWidth": 2, "tickColor": "black", "tickWidth": 2, "tickSize": {"condition": {"test": "round(datum.value*100) % 5 === 0", "value": -19}, "value": -10}}},
            "y2": {"field": "hi"}
          }
        },
        {
          "data": {"name": "pts"},
          "transform": [{"filter": "datum.panel === 'L'"}],
          "mark": {"type": "rule", "color": "black", "strokeWidth": 2, "clip": true},
          "encoding": {
            "x": {"field": "xl", "type": "quantitative", "scale": {"type": "log", "domain": [0.9471, 37.8], "nice": false}, "axis": null},
            "x2": {"field": "xh"},
            "y": {"field": "v2", "type": "quantitative", "scale": {"domain": [-0.08335, 0.24889], "nice": false, "zero": false}, "axis": null}
          }
        },
        {
          "data": {"name": "pts"},
          "transform": [{"filter": "datum.panel === 'L'"}],
          "mark": {"type": "circle", "color": "black", "opacity": 1, "size": 140},
          "encoding": {
            "x": {"field": "pt", "type": "quantitative", "scale": {"type": "log", "domain": [0.9471, 37.8], "nice": false},
              "axis": {"orient": "bottom", "values": [1, 2, 3, 4, 5, 6, 7, 8, 9, 10, 20, 30], "labels": false, "title": null, "grid": false, "domainColor": "black", "domainWidth": 2, "tickColor": "black", "tickWidth": 2, "tickSize": {"condition": {"test": "datum.value === 1 || datum.value === 10", "value": -14}, "value": -7}}},
            "y": {"field": "v2", "type": "quantitative", "scale": {"domain": [-0.08335, 0.24889], "nice": false, "zero": false},
              "axis": {"orient": "left", "values": [-0.08, -0.07, -0.06, -0.05, -0.04, -0.03, -0.02, -0.01, 0, 0.01, 0.02, 0.03, 0.04, 0.05, 0.06, 0.07, 0.08, 0.09, 0.1, 0.11, 0.12, 0.13, 0.14, 0.15, 0.16, 0.17, 0.18, 0.19, 0.2, 0.21, 0.22, 0.23, 0.24],
                "labelExpr": "round(datum.value*100) % 5 === 0 ? format(datum.value, '.2f') : ''", "labelFontSize": 28, "labelColor": "black", "labelPadding": 26, "labelOverlap": false, "labelFlush": false, "labelBound": false,
                "grid": false, "domainColor": "black", "domainWidth": 2, "tickColor": "black", "tickWidth": 2, "tickSize": {"condition": {"test": "round(datum.value*100) % 5 === 0", "value": -19}, "value": -10},
                "title": "v₂ {SP, |Δη|>0.9}", "titleFontSize": 25, "titleFontWeight": "normal", "titleColor": "black", "titleAngle": 270, "titleAlign": "right", "titleBaseline": "alphabetic", "titleX": -70, "titleY": 7}}
          }
        },
        {
          "data": {"name": "blobs"},
          "transform": [{"filter": "datum.panel === 'L'"}],
          "mark": {"type": "line", "color": "#3f4ac6", "strokeWidth": 19, "strokeCap": "round", "strokeJoin": "round", "interpolate": "monotone", "clip": true},
          "encoding": {
            "x": {"field": "pt", "type": "quantitative", "scale": {"type": "log", "domain": [0.9471, 37.8], "nice": false}, "axis": null},
            "y": {"field": "v2", "type": "quantitative", "scale": {"domain": [-0.08335, 0.24889], "nice": false, "zero": false}, "axis": null},
            "detail": {"field": "seg", "type": "nominal"}
          }
        },
        {
          "data": {"name": "notes"},
          "transform": [{"filter": "datum.panel === 'L' && datum.kind === 'big'"}],
          "mark": {"type": "text", "align": "left", "baseline": "alphabetic", "fontSize": 42, "color": "black"},
          "encoding": {
            "x": {"field": "pt", "type": "quantitative", "scale": {"type": "log", "domain": [0.9471, 37.8], "nice": false}, "axis": null},
            "y": {"field": "v2", "type": "quantitative", "scale": {"domain": [-0.08335, 0.24889], "nice": false, "zero": false}, "axis": null},
            "text": {"field": "text"}
          }
        },
        {
          "data": {"name": "notes"},
          "transform": [{"filter": "datum.panel === 'L' && datum.kind === 'n'"}],
          "mark": {"type": "text", "align": "left", "baseline": "alphabetic", "fontSize": 30, "color": "black"},
          "encoding": {
            "x": {"field": "pt", "type": "quantitative", "scale": {"type": "log", "domain": [0.9471, 37.8], "nice": false}, "axis": null},
            "y": {"field": "v2", "type": "quantitative", "scale": {"domain": [-0.08335, 0.24889], "nice": false, "zero": false}, "axis": null},
            "text": {"field": "text"}
          }
        },
        {
          "data": {"name": "notes"},
          "transform": [{"filter": "datum.panel === 'L' && datum.kind === 'i'"}],
          "mark": {"type": "text", "align": "left", "baseline": "alphabetic", "fontSize": 30, "fontStyle": "italic", "color": "black"},
          "encoding": {
            "x": {"field": "pt", "type": "quantitative", "scale": {"type": "log", "domain": [0.9471, 37.8], "nice": false}, "axis": null},
            "y": {"field": "v2", "type": "quantitative", "scale": {"domain": [-0.08335, 0.24889], "nice": false, "zero": false}, "axis": null},
            "text": {"field": "text"}
          }
        },
        {
          "data": {"name": "notes"},
          "transform": [{"filter": "datum.panel === 'L' && datum.kind === 'sub'"}],
          "mark": {"type": "text", "align": "left", "baseline": "alphabetic", "fontSize": 20, "color": "black"},
          "encoding": {
            "x": {"field": "pt", "type": "quantitative", "scale": {"type": "log", "domain": [0.9471, 37.8], "nice": false}, "axis": null},
            "y": {"field": "v2", "type": "quantitative", "scale": {"domain": [-0.08335, 0.24889], "nice": false, "zero": false}, "axis": null},
            "text": {"field": "text"}
          }
        },
        {
          "data": {"name": "keys"},
          "transform": [{"filter": "datum.kind === 'dot'"}],
          "mark": {"type": "circle", "color": "black", "opacity": 1, "size": 170},
          "encoding": {
            "x": {"field": "x1", "type": "quantitative", "scale": {"type": "log", "domain": [0.9471, 37.8], "nice": false}, "axis": null},
            "y": {"field": "y1", "type": "quantitative", "scale": {"domain": [-0.08335, 0.24889], "nice": false, "zero": false}, "axis": null}
          }
        },
        {
          "data": {"name": "keys"},
          "transform": [{"filter": "datum.kind === 'open'"}],
          "mark": {"type": "rect", "fillOpacity": 0, "stroke": "black", "strokeWidth": 2},
          "encoding": {
            "x": {"field": "x1", "type": "quantitative", "scale": {"type": "log", "domain": [0.9471, 37.8], "nice": false}, "axis": null},
            "x2": {"field": "x2"},
            "y": {"field": "y1", "type": "quantitative", "scale": {"domain": [-0.08335, 0.24889], "nice": false, "zero": false}, "axis": null},
            "y2": {"field": "y2"}
          }
        },
        {
          "data": {"name": "keys"},
          "transform": [{"filter": "datum.kind === 'grey'"}],
          "mark": {"type": "rect", "color": "#9b9b9b", "cornerRadius": 3},
          "encoding": {
            "x": {"field": "x1", "type": "quantitative", "scale": {"type": "log", "domain": [0.9471, 37.8], "nice": false}, "axis": null},
            "x2": {"field": "x2"},
            "y": {"field": "y1", "type": "quantitative", "scale": {"domain": [-0.08335, 0.24889], "nice": false, "zero": false}, "axis": null},
            "y2": {"field": "y2"}
          }
        },
        {
          "data": {"name": "keys"},
          "transform": [{"filter": "datum.kind === 'bar'"}],
          "mark": {"type": "rule", "color": "black", "strokeWidth": 2},
          "encoding": {
            "x": {"field": "x1", "type": "quantitative", "scale": {"type": "log", "domain": [0.9471, 37.8], "nice": false}, "axis": null},
            "x2": {"field": "x2"},
            "y": {"field": "y1", "type": "quantitative", "scale": {"domain": [-0.08335, 0.24889], "nice": false, "zero": false}, "axis": null}
          }
        }
      ]
    },
    {
      "width": 600,
      "height": 509,
      "resolve": {"axis": {"x": "independent", "y": "independent"}},
      "layer": [
        {
          "data": {"name": "bands"},
          "transform": [{"filter": "datum.panel === 'R'"}],
          "mark": {"type": "area", "interpolate": "monotone", "clip": true},
          "encoding": {
            "x": {"field": "pt", "type": "quantitative", "scale": {"type": "log", "domain": [0.9471, 35.6], "nice": false}, "axis": null},
            "y": {"field": "lo", "type": "quantitative", "stack": null, "scale": {"domain": [-0.08335, 0.24889], "nice": false, "zero": false}, "axis": null},
            "y2": {"field": "hi"},
            "fill": {"field": "model", "type": "nominal", "scale": {"domain": ["B1", "B2", "B3", "B4"], "range": ["#c6f4fb", "#8ec6f5", "#ffa466", "#ff9c9c"]}, "legend": null},
            "fillOpacity": {"field": "model", "type": "nominal", "scale": {"type": "ordinal", "domain": ["B1", "B2", "B3", "B4"], "range": [1, 0.62, 0.6, 0.45]}, "legend": null}
          }
        },
        {
          "data": {"name": "zero"},
          "transform": [{"filter": "datum.panel === 'R'"}],
          "mark": {"type": "rule", "color": "#4d4d4d", "strokeWidth": 2, "strokeDash": [45, 15]},
          "encoding": {
            "x": {"field": "a", "type": "quantitative", "scale": {"type": "log", "domain": [0.9471, 35.6], "nice": false}, "axis": null},
            "x2": {"field": "b"},
            "y": {"datum": 0, "type": "quantitative", "scale": {"domain": [-0.08335, 0.24889], "nice": false, "zero": false}, "axis": null}
          }
        },
        {
          "data": {"name": "pts"},
          "transform": [{"filter": "datum.panel === 'R'"}],
          "mark": {"type": "rect", "color": "#9b9b9b", "clip": true},
          "encoding": {
            "x": {"field": "gxl", "type": "quantitative", "scale": {"type": "log", "domain": [0.9471, 35.6], "nice": false}, "axis": null},
            "x2": {"field": "gxh"},
            "y": {"field": "gl", "type": "quantitative", "scale": {"domain": [-0.08335, 0.24889], "nice": false, "zero": false}, "axis": null},
            "y2": {"field": "gh"}
          }
        },
        {
          "data": {"name": "pts"},
          "transform": [{"filter": "datum.panel === 'R'"}],
          "mark": {"type": "rect", "fillOpacity": 0, "stroke": "black", "strokeWidth": 2, "clip": true},
          "encoding": {
            "x": {"field": "bxl", "type": "quantitative", "scale": {"type": "log", "domain": [0.9471, 35.6], "nice": false}, "axis": null},
            "x2": {"field": "bxh"},
            "y": {"field": "sl", "type": "quantitative", "scale": {"domain": [-0.08335, 0.24889], "nice": false, "zero": false}, "axis": null},
            "y2": {"field": "sh"}
          }
        },
        {
          "data": {"name": "curves"},
          "transform": [{"filter": "datum.panel === 'R'"}],
          "mark": {"type": "line", "interpolate": "monotone", "clip": true, "strokeCap": "butt"},
          "encoding": {
            "x": {"field": "pt", "type": "quantitative", "scale": {"type": "log", "domain": [0.9471, 35.6], "nice": false}, "axis": null},
            "y": {"field": "v2", "type": "quantitative", "scale": {"domain": [-0.08335, 0.24889], "nice": false, "zero": false}, "axis": null},
            "stroke": {"field": "model", "type": "nominal", "scale": {"domain": ["M1", "M2", "M3", "M4", "M5", "M6", "M7"], "range": ["#66cc33", "#ff00ff", "#1f9e1f", "#cc0000", "#1010ee", "#3b3b00", "#a8a830"]}, "legend": null},
            "strokeDash": {"field": "model", "type": "nominal", "scale": {"domain": ["M1", "M2", "M3", "M4", "M5", "M6", "M7"], "range": [[1, 0], [38, 10], [11, 7], [14, 6, 3, 6], [10, 5, 2, 5], [7, 8], [3, 5]]}, "legend": null},
            "strokeWidth": {"field": "model", "type": "nominal", "scale": {"type": "ordinal", "domain": ["M1", "M2", "M3", "M4", "M5", "M6", "M7"], "range": [2.5, 2.5, 3, 4.5, 3, 6, 3.5]}, "legend": null}
          }
        },
        {
          "data": {"name": "pts"},
          "transform": [{"filter": "datum.panel === 'R'"}],
          "mark": {"type": "rule", "color": "black", "strokeWidth": 2, "clip": true},
          "encoding": {
            "x": {"field": "pt", "type": "quantitative", "scale": {"type": "log", "domain": [0.9471, 35.6], "nice": false},
              "axis": {"orient": "top", "values": [1, 2, 3, 4, 5, 6, 7, 8, 9, 10, 20, 30], "labels": false, "title": null, "grid": false, "domainColor": "black", "domainWidth": 2, "tickColor": "black", "tickWidth": 2, "tickSize": {"condition": {"test": "datum.value === 1 || datum.value === 10", "value": -14}, "value": -7}}},
            "y": {"field": "lo", "type": "quantitative", "scale": {"domain": [-0.08335, 0.24889], "nice": false, "zero": false},
              "axis": {"orient": "right", "values": [-0.08, -0.07, -0.06, -0.05, -0.04, -0.03, -0.02, -0.01, 0, 0.01, 0.02, 0.03, 0.04, 0.05, 0.06, 0.07, 0.08, 0.09, 0.1, 0.11, 0.12, 0.13, 0.14, 0.15, 0.16, 0.17, 0.18, 0.19, 0.2, 0.21, 0.22, 0.23, 0.24], "labels": false, "title": null, "grid": false, "domainColor": "black", "domainWidth": 2, "tickColor": "black", "tickWidth": 2, "tickSize": {"condition": {"test": "round(datum.value*100) % 5 === 0", "value": -19}, "value": -10}}},
            "y2": {"field": "hi"}
          }
        },
        {
          "data": {"name": "pts"},
          "transform": [{"filter": "datum.panel === 'R'"}],
          "mark": {"type": "rule", "color": "black", "strokeWidth": 2, "clip": true},
          "encoding": {
            "x": {"field": "xl", "type": "quantitative", "scale": {"type": "log", "domain": [0.9471, 35.6], "nice": false}, "axis": null},
            "x2": {"field": "xh"},
            "y": {"field": "v2", "type": "quantitative", "scale": {"domain": [-0.08335, 0.24889], "nice": false, "zero": false}, "axis": null}
          }
        },
        {
          "data": {"name": "pts"},
          "transform": [{"filter": "datum.panel === 'R'"}],
          "mark": {"type": "circle", "color": "black", "opacity": 1, "size": 140},
          "encoding": {
            "x": {"field": "pt", "type": "quantitative", "scale": {"type": "log", "domain": [0.9471, 35.6], "nice": false},
              "axis": {"orient": "bottom", "values": [1, 2, 3, 4, 5, 6, 7, 8, 9, 10, 20, 30], "labels": false, "title": null, "grid": false, "domainColor": "black", "domainWidth": 2, "tickColor": "black", "tickWidth": 2, "tickSize": {"condition": {"test": "datum.value === 1 || datum.value === 10", "value": -14}, "value": -7}}},
            "y": {"field": "v2", "type": "quantitative", "scale": {"domain": [-0.08335, 0.24889], "nice": false, "zero": false},
              "axis": {"orient": "left", "values": [-0.08, -0.07, -0.06, -0.05, -0.04, -0.03, -0.02, -0.01, 0, 0.01, 0.02, 0.03, 0.04, 0.05, 0.06, 0.07, 0.08, 0.09, 0.1, 0.11, 0.12, 0.13, 0.14, 0.15, 0.16, 0.17, 0.18, 0.19, 0.2, 0.21, 0.22, 0.23, 0.24], "labels": false, "title": null, "grid": false, "domainColor": "black", "domainWidth": 2, "tickColor": "black", "tickWidth": 2, "tickSize": {"condition": {"test": "round(datum.value*100) % 5 === 0", "value": -19}, "value": -10}}}
          }
        },
        {
          "data": {"name": "blobs"},
          "transform": [{"filter": "datum.panel === 'R'"}],
          "mark": {"type": "line", "color": "#3f4ac6", "strokeWidth": 19, "strokeCap": "round", "strokeJoin": "round", "interpolate": "monotone", "clip": true},
          "encoding": {
            "x": {"field": "pt", "type": "quantitative", "scale": {"type": "log", "domain": [0.9471, 35.6], "nice": false}, "axis": null},
            "y": {"field": "v2", "type": "quantitative", "scale": {"domain": [-0.08335, 0.24889], "nice": false, "zero": false}, "axis": null},
            "detail": {"field": "seg", "type": "nominal"}
          }
        },
        {
          "data": {"name": "notes"},
          "transform": [{"filter": "datum.panel === 'R' && datum.kind === 'n'"}],
          "mark": {"type": "text", "align": "left", "baseline": "alphabetic", "fontSize": 30, "color": "black"},
          "encoding": {
            "x": {"field": "pt", "type": "quantitative", "scale": {"type": "log", "domain": [0.9471, 35.6], "nice": false}, "axis": null},
            "y": {"field": "v2", "type": "quantitative", "scale": {"domain": [-0.08335, 0.24889], "nice": false, "zero": false}, "axis": null},
            "text": {"field": "text"}
          }
        }
      ]
    }
  ]
}
